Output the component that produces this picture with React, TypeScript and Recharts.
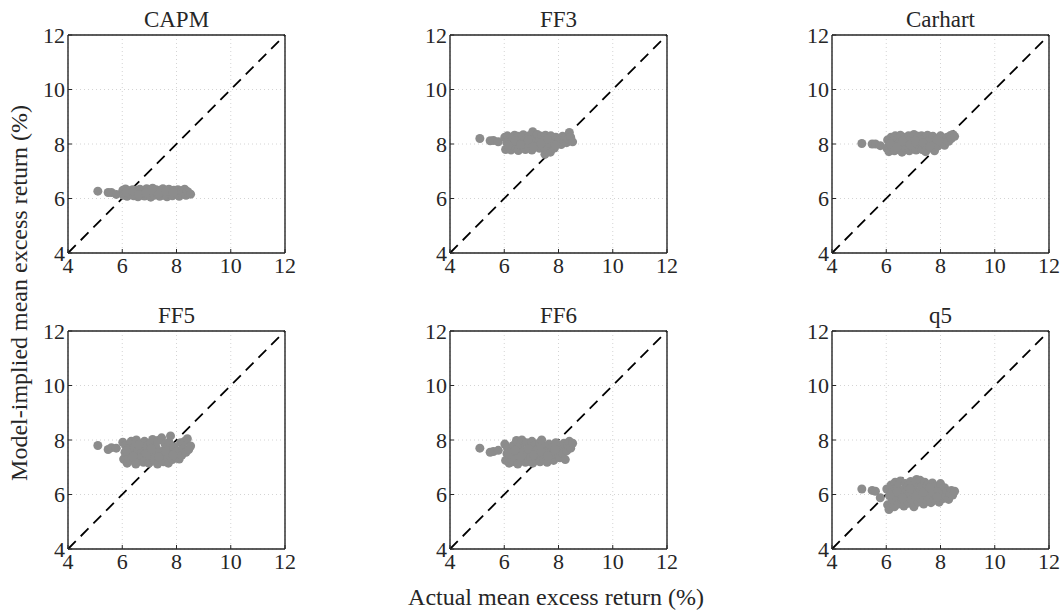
import React from "react";
import { ScatterChart, Scatter, XAxis, YAxis, CartesianGrid, ReferenceLine } from "recharts";

// actual mean excess return of each test portfolio (%), shared by all panels
const actual = [
  5.1, 5.48, 5.6, 5.78,
  6.02, 6.05, 6.1, 6.12, 6.18, 6.22, 6.25, 6.3, 6.33, 6.38,
  6.42, 6.45, 6.5, 6.52, 6.58, 6.62, 6.65, 6.7, 6.72, 6.78,
  6.82, 6.85, 6.9, 6.92, 6.98, 7.02, 7.05, 7.1, 7.12, 7.18,
  7.22, 7.25, 7.3, 7.32, 7.38, 7.42, 7.45, 7.5, 7.52, 7.58,
  7.62, 7.65, 7.7, 7.72, 7.78, 7.82, 7.85, 7.9, 7.95, 8.0,
  8.05, 8.1, 8.15, 8.2, 8.25, 8.3, 8.35, 8.4, 8.45, 8.52,
  6.15, 6.4, 6.6, 6.88, 7.08, 7.35, 7.6, 7.88,
];

// model-implied mean excess returns (%)
const capm = [
  6.27, 6.22, 6.22, 6.15,
  6.3, 6.12, 6.22, 6.35, 6.08, 6.18, 6.28, 6.14, 6.24, 6.32,
  6.1, 6.2, 6.3, 6.16, 6.06, 6.26, 6.34, 6.12, 6.22, 6.28,
  6.09, 6.18, 6.36, 6.24, 6.14, 6.3, 6.05, 6.2, 6.38, 6.12,
  6.26, 6.32, 6.16, 6.22, 6.08, 6.3, 6.18, 6.36, 6.12, 6.24,
  6.28, 6.06, 6.2, 6.34, 6.14, 6.26, 6.1, 6.3, 6.22, 6.16,
  6.32, 6.08, 6.24, 6.28, 6.18, 6.34, 6.12, 6.26, 6.2, 6.16,
  6.24, 6.26, 6.14, 6.22, 6.3, 6.18, 6.26, 6.22,
];

const ff3 = [
  8.2, 8.12, 8.13, 8.08,
  8.25, 7.8, 8.05, 8.3, 7.9, 8.15, 7.78, 8.22, 8.0, 8.32,
  7.85, 8.1, 8.28, 7.76, 8.02, 8.2, 7.92, 8.34, 8.08, 7.8,
  8.18, 8.0, 7.88, 8.3, 8.12, 7.78, 8.45, 8.05, 8.22, 7.92,
  8.35, 8.0, 7.84, 8.18, 8.28, 7.95, 8.1, 7.62, 8.32, 7.8,
  8.05, 8.22, 7.7, 8.3, 7.9, 8.15, 7.85, 8.25, 8.05, 8.12,
  8.2, 7.98, 8.28, 8.1, 8.22, 8.05, 8.18, 8.42, 8.25, 8.08,
  7.95, 8.12, 7.98, 8.15, 7.9, 8.02, 8.18, 7.95,
];

const carhart = [
  8.02, 8.0, 8.0, 7.94,
  7.85, 8.15, 7.72, 8.05, 8.25, 7.9, 8.1, 7.75, 8.3, 7.95,
  8.18, 7.8, 8.05, 8.32, 7.7, 8.12, 7.92, 8.25, 7.82, 8.08,
  8.3, 7.75, 8.0, 8.2, 7.88, 8.35, 8.05, 7.78, 8.15, 8.28,
  7.9, 8.1, 8.3, 7.8, 8.02, 8.22, 7.72, 8.12, 8.32, 7.95,
  8.18, 7.85, 8.08, 8.28, 7.75, 8.0, 8.2, 7.92, 8.12, 8.3,
  8.05, 8.22, 7.95, 8.15, 8.25, 8.1, 8.3, 8.2, 8.35, 8.28,
  8.0, 7.88, 8.1, 7.98, 8.12, 8.05, 7.9, 8.15,
];

const ff5 = [
  7.8, 7.65, 7.72, 7.7,
  7.92, 7.3, 7.55, 7.8, 7.15, 7.45, 7.7, 7.25, 7.95, 7.5,
  7.35, 7.75, 7.12, 8.0, 7.6, 7.28, 7.85, 7.42, 7.65, 7.18,
  7.95, 7.5, 7.3, 7.78, 7.15, 7.62, 7.88, 7.4, 8.02, 7.25,
  7.55, 7.72, 7.12, 7.98, 7.45, 7.3, 8.08, 7.6, 7.2, 7.85,
  7.4, 7.65, 7.15, 7.92, 8.15, 7.5, 7.28, 7.75, 7.55, 7.35,
  7.6, 7.3, 7.9, 7.45, 7.7, 7.95, 7.55, 8.05, 7.65, 7.78,
  7.6, 7.4, 7.82, 7.5, 7.68, 7.38, 7.58, 7.45,
];

const ff6 = [
  7.7, 7.55, 7.58, 7.62,
  7.85, 7.25, 7.5, 7.7, 7.15, 7.42, 7.62, 7.2, 7.8, 7.35,
  7.55, 7.98, 7.12, 7.45, 7.75, 7.28, 8.0, 7.38, 7.6, 7.18,
  7.9, 7.48, 7.22, 7.7, 7.35, 7.95, 7.15, 7.55, 7.82, 7.28,
  7.65, 7.4, 7.9, 7.2, 8.0, 7.5, 7.3, 7.75, 7.45, 7.18,
  7.6, 7.85, 7.3, 7.55, 7.72, 7.25, 7.48, 7.9, 7.62, 7.4,
  7.35, 7.7, 7.5, 7.88, 7.28, 7.6, 7.8, 7.95, 7.7, 7.88,
  7.5, 7.62, 7.38, 7.68, 7.45, 7.58, 7.4, 7.65,
];

const q5 = [
  6.2, 6.15, 6.12, 5.88,
  6.2, 5.62, 5.45, 5.95, 6.35, 5.75, 6.1, 5.55, 6.45, 5.85,
  6.25, 5.65, 6.05, 6.5, 5.78, 6.15, 5.58, 6.4, 5.92, 6.3,
  5.68, 6.02, 6.48, 5.82, 6.2, 5.55, 6.38, 5.95, 6.55, 5.72,
  6.12, 6.52, 5.85, 6.28, 5.65, 6.45, 6.0, 5.75, 6.35, 5.9,
  6.22, 5.7, 6.42, 6.05, 5.8, 6.3, 5.92, 6.18, 5.72, 6.4,
  6.0, 5.85, 6.25, 5.95, 6.1, 5.82, 6.05, 6.15, 5.98, 6.12,
  6.0, 6.1, 5.88, 6.22, 5.95, 6.08, 6.25, 5.9,
];

const titles = ["CAPM", "FF3", "Carhart", "FF5", "FF6", "q5"];
const models = [capm, ff3, carhart, ff5, ff6, q5];
const ticks = [4, 6, 8, 10, 12];

const FONT = '"Liberation Serif", "Times New Roman", serif';
const INK = "#262626";
const DOT = "#8c8c8c";
const FS = 22;

const BOX_W = 217;
const BOX_H = 218;
const BOX_LEFT = [68, 450, 832];
const BOX_TOP = [35, 331];
const AXIS_W = 44;
const TOP_PAD = 14;
const RIGHT_PAD = 14;
const BOTTOM_H = 32;

const BottomTick = (props: any) => {
  const { x, y, payload } = props;
  return (
    <g>
      <line x1={x} y1={y} x2={x} y2={y - 4} stroke={INK} />
      <text x={x} y={y + 3} dy="0.78em" textAnchor="middle" fill={INK} fontSize={FS} fontFamily={FONT}>
        {payload.value}
      </text>
    </g>
  );
};

const LeftTick = (props: any) => {
  const { x, y, payload } = props;
  return (
    <g>
      <line x1={x} y1={y} x2={x + 4} y2={y} stroke={INK} />
      <text x={x - 3} y={y} dy="0.35em" textAnchor="end" fill={INK} fontSize={FS} fontFamily={FONT}>
        {payload.value}
      </text>
    </g>
  );
};

const TopTick = (props: any) => {
  const { x, y } = props;
  return <line x1={x} y1={y} x2={x} y2={y + 4} stroke={INK} />;
};

const RightTick = (props: any) => {
  const { x, y } = props;
  return <line x1={x} y1={y} x2={x - 4} y2={y} stroke={INK} />;
};

const Dot = (props: any) => <circle cx={props.cx} cy={props.cy} r={4.5} fill={DOT} />;

function Panel({ title, values, left, top }: { title: string; values: number[]; left: number; top: number }) {
  const data = actual.map((x, i) => ({ x, y: values[i] }));
  const axisLine = { stroke: INK, strokeWidth: 1.4 };
  return (
    <>
      <div
        style={{
          position: "absolute",
          left,
          top: top - 27,
          width: BOX_W,
          textAlign: "center",
          fontFamily: FONT,
          fontSize: 23,
          color: INK,
          lineHeight: "24px",
        }}
      >
        {title}
      </div>
      <div style={{ position: "absolute", left: left - AXIS_W, top: top - TOP_PAD - 1 }}>
        <ScatterChart
          width={AXIS_W + BOX_W + RIGHT_PAD + 1}
          height={TOP_PAD + 1 + BOX_H + BOTTOM_H}
          margin={{ top: TOP_PAD, right: RIGHT_PAD, left: 0, bottom: 0 }}
        >
          <CartesianGrid xAxisId="b" yAxisId="l" stroke="#d4d4d4" strokeDasharray="1 3" />
          <XAxis
            xAxisId="b"
            type="number"
            dataKey="x"
            domain={[4, 12]}
            ticks={ticks}
            interval={0}
            allowDataOverflow
            height={BOTTOM_H}
            tickSize={0}
            tickMargin={0}
            axisLine={axisLine}
            tick={BottomTick}
          />
          <XAxis
            xAxisId="t"
            orientation="top"
            type="number"
            domain={[4, 12]}
            ticks={ticks}
            interval={0}
            height={1}
            tickSize={0}
            tickMargin={0}
            axisLine={axisLine}
            tick={TopTick}
          />
          <YAxis
            yAxisId="l"
            type="number"
            dataKey="y"
            domain={[4, 12]}
            ticks={ticks}
            interval={0}
            allowDataOverflow
            width={AXIS_W}
            tickSize={0}
            tickMargin={0}
            axisLine={axisLine}
            tick={LeftTick}
          />
          <YAxis
            yAxisId="r"
            orientation="right"
            type="number"
            domain={[4, 12]}
            ticks={ticks}
            interval={0}
            width={1}
            tickSize={0}
            tickMargin={0}
            axisLine={axisLine}
            tick={RightTick}
          />
          <ReferenceLine
            xAxisId="b"
            yAxisId="l"
            segment={[{ x: 4, y: 4 }, { x: 12, y: 12 }]}
            stroke="#000"
            strokeWidth={1.8}
            strokeDasharray="11 7"
          />
          <Scatter xAxisId="b" yAxisId="l" data={data} shape={Dot} isAnimationActive={false} />
        </ScatterChart>
      </div>
    </>
  );
}

export default function App() {
  return (
    <div style={{ position: "absolute", left: 0, top: 0, width: 1061, height: 612, background: "#fff", overflow: "hidden" }}>
      {titles.map((t, i) => (
        <Panel
          key={t}
          title={t}
          values={models[i]}
          left={BOX_LEFT[i % 3]}
          top={BOX_TOP[Math.floor(i / 3)]}
        />
      ))}
      <div
        style={{
          position: "absolute",
          left: 556,
          top: 597,
          transform: "translate(-50%, -50%)",
          whiteSpace: "nowrap",
          fontFamily: FONT,
          fontSize: 24,
          color: INK,
        }}
      >
        Actual mean excess return (%)
      </div>
      <div
        style={{
          position: "absolute",
          left: 19,
          top: 293,
          transform: "translate(-50%, -50%) rotate(-90deg)",
          whiteSpace: "nowrap",
          fontFamily: FONT,
          fontSize: 24,
          color: INK,
        }}
      >
        Model-implied mean excess return (%)
      </div>
    </div>
  );
}
